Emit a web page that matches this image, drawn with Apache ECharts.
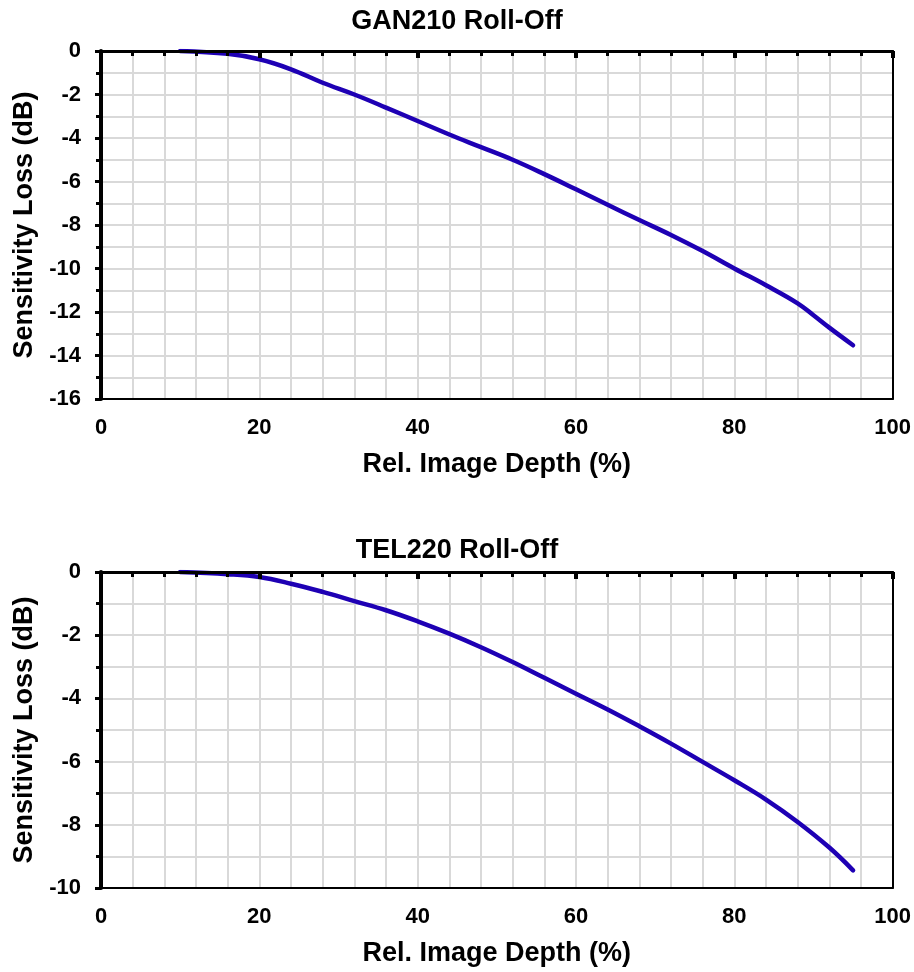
<!DOCTYPE html>
<html>
<head>
<meta charset="utf-8">
<script src="https://cdn.jsdelivr.net/npm/echarts@6/dist/echarts.min.js"></script>
<style>
html,body{margin:0;padding:0;background:#fff;}
#chart{width:914px;height:972px;}
</style>
</head>
<body>
<div id="chart"></div>
<script>
// Data
const ganDepth = [10, 16, 20, 24, 28, 32, 36, 40, 44, 48, 52, 56, 60, 64, 68, 72, 76, 80, 84, 88, 90, 92, 95];
const ganLoss  = [0, -0.13, -0.38, -0.84, -1.46, -2.0, -2.6, -3.22, -3.84, -4.42, -5.0, -5.66, -6.36, -7.07, -7.77, -8.46, -9.2, -10.0, -10.77, -11.6, -12.15, -12.72, -13.53];
const telDepth = [10, 16, 20, 24, 28, 32, 36, 40, 44, 48, 52, 56, 60, 64, 68, 72, 76, 80, 84, 88, 92, 95];
const telLoss  = [0, -0.07, -0.16, -0.37, -0.63, -0.92, -1.21, -1.56, -1.95, -2.38, -2.85, -3.35, -3.85, -4.35, -4.88, -5.43, -6.01, -6.59, -7.2, -7.91, -8.72, -9.44];
const titles = ['GAN210 Roll-Off', 'TEL220 Roll-Off'];
const xName = 'Rel. Image Depth (%)';
const yName = 'Sensitivity Loss (dB)';
const yMins = [-16, -10];

const FONT = '"Liberation Sans", Arial, sans-serif';
const GRID_GRAY = '#d9d9d9';
const LINE_COLOR = '#1e00b4';

const grids = [
  {left: 101, top: 51, width: 792, height: 348},
  {left: 101, top: 572, width: 792, height: 316}
];
const titleTops = [3, 532];

function pairs(xs, ys){ return xs.map((x,i)=>[x, ys[i]]); }

const xAxis = [], yAxis = [], series = [], title = [];
grids.forEach((g, gi) => {
  title.push({text: titles[gi], left: 'center', top: titleTops[gi],
    textStyle: {fontFamily: FONT, fontWeight: 'bold', fontSize: 27, color: '#000'}});
  // labelled bottom x axis
  const xBase = xAxis.length;
  xAxis.push({gridIndex: gi, type: 'value', position: 'bottom', min: 0, max: 100, interval: 20, z: 5,
    name: xName, nameLocation: 'middle', nameGap: 52,
    nameTextStyle: {fontFamily: FONT, fontWeight: 'bold', fontSize: 27, color: '#000'},
    axisLine: {show: true, onZero: false, lineStyle: {color: '#000', width: 2}},
    axisTick: {show: false},
    axisLabel: {margin: 18, fontFamily: FONT, fontWeight: 'bold', fontSize: 22, color: '#000'},
    splitLine: {show: false}});
  // grid lines every 4
  xAxis.push({gridIndex: gi, type: 'value', position: 'bottom', min: 0, max: 100, interval: 4, z: 0,
    axisLine: {show: false}, axisTick: {show: false}, axisLabel: {show: false},
    splitLine: {show: true, lineStyle: {color: GRID_GRAY, width: 2}}});
  // top axis line with inside ticks (x axis crosses at y = 0)
  xAxis.push({gridIndex: gi, type: 'value', position: 'top', min: 0, max: 100, interval: 4, z: 6,
    axisLine: {show: true, onZero: false, lineStyle: {color: '#000', width: 3}},
    axisTick: {show: true, inside: true, length: 5, lineStyle: {color: '#000', width: 3}},
    axisLabel: {show: false}, splitLine: {show: false}});
  // major top ticks every 20
  xAxis.push({gridIndex: gi, type: 'value', position: 'top', min: 0, max: 100, interval: 20, z: 6,
    axisLine: {show: false, onZero: false},
    axisTick: {show: true, inside: true, length: 7, lineStyle: {color: '#000', width: 4}},
    axisLabel: {show: false}, splitLine: {show: false}});
  const yBase = yAxis.length;
  yAxis.push({gridIndex: gi, type: 'value', position: 'left', min: yMins[gi], max: 0, interval: 2, z: 6,
    name: yName, nameLocation: 'middle', nameGap: 62,
    nameTextStyle: {fontFamily: FONT, fontWeight: 'bold', fontSize: 27, color: '#000'},
    axisLine: {show: true, onZero: false, lineStyle: {color: '#000', width: 4}},
    axisTick: {show: true, length: 6, lineStyle: {color: '#000', width: 3}},
    minorTick: {show: true, splitNumber: 2, length: 5, lineStyle: {color: '#000', width: 3}},
    axisLabel: {margin: 20, fontFamily: FONT, fontWeight: 'bold', fontSize: 22, color: '#000'},
    splitLine: {show: false}});
  yAxis.push({gridIndex: gi, type: 'value', position: 'left', min: yMins[gi], max: 0, interval: 1, z: 0,
    axisLine: {show: false}, axisTick: {show: false}, axisLabel: {show: false},
    splitLine: {show: true, lineStyle: {color: GRID_GRAY, width: 2}}});
  yAxis.push({gridIndex: gi, type: 'value', position: 'right', min: yMins[gi], max: 0, interval: 2, z: 5,
    axisLine: {show: true, onZero: false, lineStyle: {color: '#000', width: 2}},
    axisTick: {show: false}, axisLabel: {show: false}, splitLine: {show: false}});
  series.push({type: 'line', xAxisIndex: xBase, yAxisIndex: yBase, smooth: 0.4, showSymbol: false, z: 4,
    data: gi === 0 ? pairs(ganDepth, ganLoss) : pairs(telDepth, telLoss),
    lineStyle: {color: LINE_COLOR, width: 4.5, cap: 'round', join: 'round'}, itemStyle: {color: LINE_COLOR}});
});

const chart = echarts.init(document.getElementById('chart'), null, {renderer: 'canvas'});
chart.setOption({
  animation: false,
  backgroundColor: '#fff',
  textStyle: {fontFamily: FONT},
  title, grid: grids, xAxis, yAxis, series
});
</script>
</body>
</html>
